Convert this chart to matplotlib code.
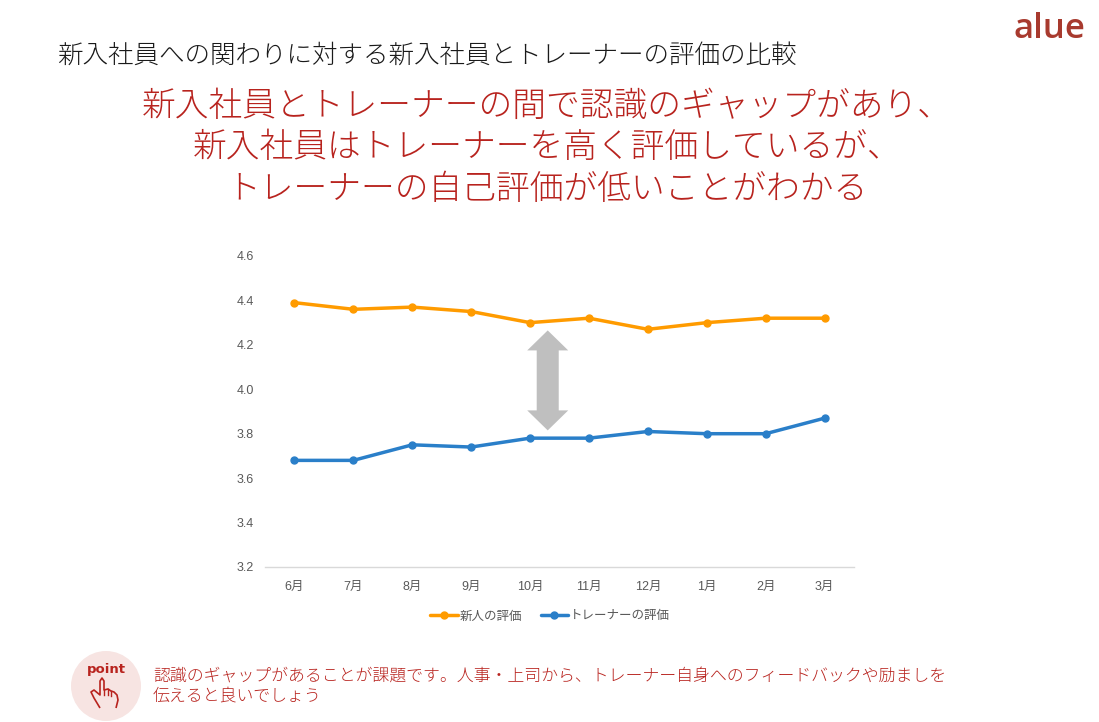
import matplotlib
matplotlib.use("Agg")
import matplotlib.pyplot as plt
from matplotlib.patches import Ellipse, Polygon
from matplotlib.transforms import IdentityTransform

plt.rcParams['font.family'] = ['Noto Sans CJK JP', 'DejaVu Sans']

months = ["6月", "7月", "8月", "9月", "10月", "11月", "12月", "1月", "2月", "3月"]
newcomer = [4.39, 4.36, 4.37, 4.35, 4.30, 4.32, 4.27, 4.30, 4.32, 4.32]
trainer = [3.68, 3.68, 3.75, 3.74, 3.78, 3.78, 3.81, 3.80, 3.80, 3.87]
series_names = ["新人の評価", "トレーナーの評価"]
yticks = [3.2, 3.4, 3.6, 3.8, 4.0, 4.2, 4.4, 4.6]

title = "新入社員への関わりに対する新入社員とトレーナーの評価の比較"
headline = ["新入社員とトレーナーの間で認識のギャップがあり、",
            "新入社員はトレーナーを高く評価しているが、",
            "トレーナーの自己評価が低いことがわかる"]
note = ["認識のギャップがあることが課題です。人事・上司から、トレーナー自身へのフィードバックや励ましを",
        "伝えると良いでしょう"]

W, H = 1099, 722
fig = plt.figure(figsize=(W / 100, H / 100), dpi=100)
fig.patch.set_facecolor("white")

ORANGE = "#FF9B00"
BLUE = "#2A7FC9"
RED = "#B8231E"
GREY = "#595959"

def fx(px):
    return px / W

def fy(py):
    return 1 - py / H

ax = fig.add_axes([fx(265), fy(567), fx(854) - fx(265), fy(256) - fy(567)])
x = list(range(len(months)))
ax.plot(x, newcomer, color=ORANGE, lw=2.5, marker="o", ms=5, label=series_names[0], solid_capstyle="round")
ax.plot(x, trainer, color=BLUE, lw=2.5, marker="o", ms=5, label=series_names[1], solid_capstyle="round")
ax.set_xlim(-0.5, len(months) - 0.5)
ax.set_ylim(3.2, 4.6)
ax.set_yticks(yticks)
ax.set_yticklabels([f"{v:.1f}" for v in yticks])
ax.set_xticks(x)
ax.set_xticklabels(months)
for s in ["top", "right", "left"]:
    ax.spines[s].set_visible(False)
ax.spines["bottom"].set_color("#D9D9D9")
ax.spines["bottom"].set_linewidth(1)
ax.tick_params(axis="both", length=0, labelsize=9, labelcolor=GREY)
ax.tick_params(axis="y", pad=8)
ax.tick_params(axis="x", pad=10)
for lab in ax.get_yticklabels() + ax.get_xticklabels():
    lab.set_family(['Liberation Sans', 'Noto Sans CJK JP'])

# gap arrow (double-headed block arrow), built in display pixels from data anchors
arrow_x, arrow_y0, arrow_y1 = 4.3, 3.815, 4.265
(cx, by), = ax.transData.transform([(arrow_x, arrow_y0)])
(_, ty), = ax.transData.transform([(arrow_x, arrow_y1)])
hw, sw, hl = 20.5, 11, 20
pts = [(cx, ty), (cx + hw, ty - hl), (cx + sw, ty - hl), (cx + sw, by + hl), (cx + hw, by + hl),
       (cx, by), (cx - hw, by + hl), (cx - sw, by + hl), (cx - sw, ty - hl), (cx - hw, ty - hl)]
fig.add_artist(Polygon(pts, closed=True, transform=IdentityTransform(),
                       facecolor="#BFBFBF", edgecolor="none"))

leg = fig.legend(loc="center", bbox_to_anchor=(fx(550), fy(616)), ncol=2, frameon=False,
                 fontsize=9, handlelength=2.2, handletextpad=0.15, columnspacing=1.5)
for t in leg.get_texts():
    t.set_color(GREY)

fig.text(fx(57), fy(55), title, fontsize=18.4, color="#1A1A1A", va="center", ha="left",
         fontweight="light")
for i, line in enumerate(headline):
    fig.text(fx(547), fy(106 + 41.5 * i), line, fontsize=24.3, color=RED, va="center", ha="center",
             fontweight="light")

fig.text(fx(1049), fy(29), "alue", fontsize=25, color="#A83A2E", va="center", ha="center",
         family=["Open Sans", "DejaVu Sans"], fontweight="semibold")

# point badge
fig.add_artist(Ellipse((fx(106), fy(686)), width=70 / W, height=70 / H, transform=fig.transFigure,
                       facecolor="#F7E4E2", edgecolor="none"))
fig.text(fx(106), fy(670), "point", fontsize=9.5, fontweight="bold", color=RED,
         va="center", ha="center", family=["DejaVu Sans"])
hand = [(100, 708), (94, 698), (91, 692), (94, 690), (100, 695), (100, 681),
        (102, 678), (104, 681), (104, 690), (108, 689), (111, 691), (114, 692),
        (117, 695), (118, 700), (116, 708)]
fig.add_artist(Polygon([(fx(a), fy(b)) for a, b in hand], closed=False, transform=fig.transFigure,
                       fill=False, edgecolor=RED, lw=1.2, joinstyle="round"))
for a, b in [((104, 690), (104, 695)), ((108, 689), (108, 695)), ((111, 691), (111, 696))]:
    fig.add_artist(plt.Line2D([fx(a[0]), fx(b[0])], [fy(a[1]), fy(b[1])], transform=fig.transFigure,
                              color=RED, lw=1.0))

for i, line in enumerate(note):
    fig.text(fx(153), fy(676 + 20 * i), line, fontsize=12.2, color=RED, va="center", ha="left",
             fontweight="light")

fig.savefig("out.png", dpi=100)
